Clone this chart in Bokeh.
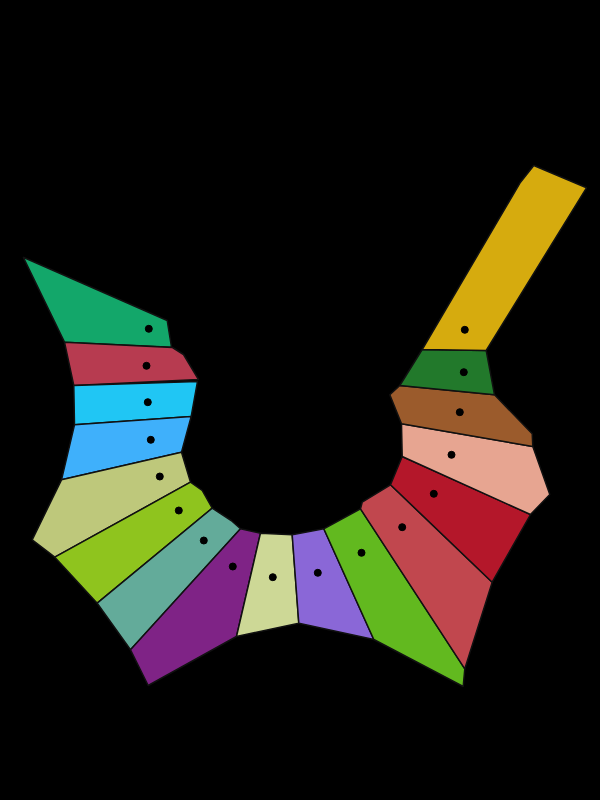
from bokeh.embed import file_html
from bokeh.models import ColumnDataSource, Range1d
from bokeh.plotting import figure
from bokeh.resources import INLINE

# cells of the diagram, ordered along the arc (left top -> right top)
cell_xs = [
    [22.7, 166.7, 171.0, 64.0],
    [64.0, 172.0, 183.0, 198.0, 73.3],
    [73.3, 197.0, 190.7, 74.0],
    [74.0, 190.7, 181.0, 61.0],
    [61.0, 181.0, 190.0, 54.3, 31.7],
    [54.3, 190.0, 201.7, 211.7, 96.7],
    [96.7, 211.7, 230.7, 240.0, 130.0],
    [130.0, 240.0, 260.0, 236.0, 147.7],
    [260.0, 291.7, 298.3, 236.0],
    [291.7, 323.3, 373.3, 298.3],
    [323.3, 360.0, 464.3, 462.7, 373.3],
    [360.0, 361.7, 390.0, 491.7, 464.3],
    [390.0, 401.7, 530.0, 491.7],
    [401.7, 401.0, 532.3, 549.3, 530.0],
    [401.0, 389.3, 399.3, 494.0, 531.7, 532.3],
    [399.3, 421.7, 485.7, 494.0],
    [421.7, 520.0, 533.3, 586.0, 485.7],
]
cell_ys = [
    [256.7, 320.0, 346.7, 341.7],
    [341.7, 347.0, 354.0, 379.0, 385.0],
    [385.0, 381.0, 416.0, 424.3],
    [424.3, 416.0, 451.7, 479.3],
    [479.3, 451.7, 481.7, 556.7, 539.3],
    [556.7, 481.7, 490.0, 507.7, 602.7],
    [602.7, 507.7, 520.0, 528.3, 649.3],
    [649.3, 528.3, 532.7, 636.0, 685.0],
    [532.7, 534.3, 622.7, 636.0],
    [534.3, 528.3, 639.0, 622.7],
    [528.3, 508.3, 668.3, 686.0, 639.0],
    [508.3, 501.7, 484.3, 581.7, 668.3],
    [484.3, 456.0, 514.0, 581.7],
    [456.0, 423.3, 446.0, 494.0, 514.0],
    [423.3, 394.3, 385.0, 394.3, 433.3, 446.0],
    [385.0, 349.0, 350.0, 394.3],
    [349.0, 181.7, 165.0, 187.3, 350.0],
]
colors = [
    "#13a76a", "#b73b50", "#20c6f4", "#3fb0fb", "#bec87b", "#8fc41e",
    "#63ab9a", "#7f2386", "#cdd896", "#8a67d7", "#62b91f", "#c1474e",
    "#b4172a", "#e7a591", "#9b5b2c", "#22792b", "#d6ab0e",
]

# site points
site_x = [148.3, 146.0, 147.3, 150.3, 159.3, 178.3, 203.3, 232.3, 272.3,
          317.3, 361.0, 401.7, 433.3, 451.0, 459.3, 463.3, 464.3]
site_y = [328.3, 365.3, 401.7, 439.3, 476.0, 510.0, 540.0, 566.0, 576.7,
          572.3, 552.3, 526.7, 493.3, 454.3, 411.7, 371.7, 329.3]

cells = ColumnDataSource(dict(xs=cell_xs, ys=cell_ys, color=colors))
sites = ColumnDataSource(dict(x=site_x, y=site_y))

p = figure(width=592, height=792, x_range=Range1d(0, 592), y_range=Range1d(792, 0),
           output_backend="svg", toolbar_location=None, min_border=0)
p.background_fill_color = "black"
p.border_fill_color = "black"
p.outline_line_color = None
p.axis.visible = False
p.grid.visible = False

p.patches("xs", "ys", source=cells, fill_color="color", line_color="#111111",
          line_width=1.5)
p.scatter("x", "y", source=sites, size=7, color="black")

html = file_html(p, INLINE).replace("<body>", '<body style="background:black">')
open("out.html", "w").write(html)
